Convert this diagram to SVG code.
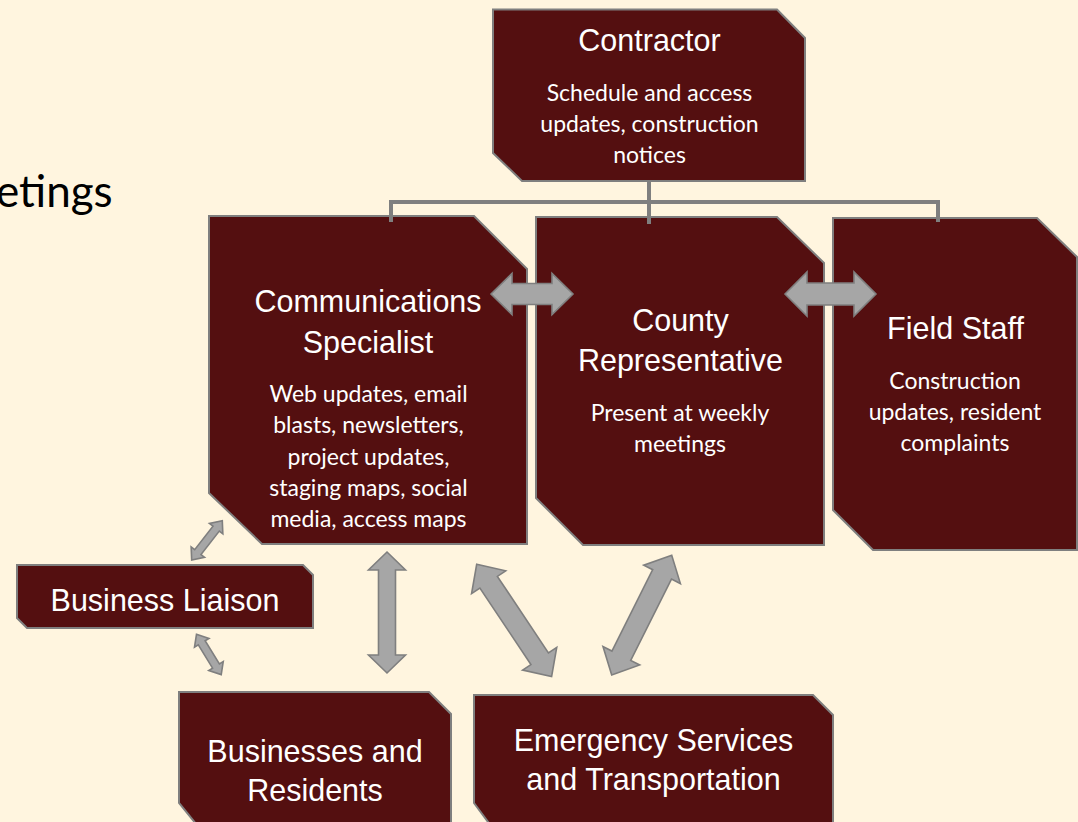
<svg xmlns="http://www.w3.org/2000/svg" width="1078" height="822" viewBox="0 0 1078 822">
<style>
.box{fill:#540f10;stroke:#7f7f7f;stroke-width:2}
.t{font-family:"Liberation Sans",Arial,sans-serif;font-size:30.5px;fill:#ffffff;text-anchor:middle}
.b{font-family:Lato,"Noto Sans",sans-serif;font-size:23px;fill:#ffffff;text-anchor:middle}
.ln{fill:none;stroke:#7f7f7f;stroke-width:4}
.ar{fill:#a6a6a6;stroke:#7f7f7f;stroke-width:1.6;stroke-linejoin:miter}
</style>
<rect width="1078" height="822" fill="#fff5df"/>
<text x="-4" y="207" font-family="Lato,'Noto Sans',sans-serif" font-size="44" fill="#000000">etings</text>

<g id="contractor">
<polygon class="box" points="493,9.5 777,9.5 805,38 805,181 522,181 493,153"/>
<text class="t" x="649.5" y="51">Contractor</text>
<text class="b" x="649.5" y="101">Schedule and access</text>
<text class="b" x="649.5" y="132">updates, construction</text>
<text class="b" x="649.5" y="163">notices</text>
</g>

<g id="communications-specialist">
<polygon class="box" points="209,216 474,216 527,269 527,544 262,544 209,493"/>
<text class="t" x="368" y="312">Communications</text>
<text class="t" x="368" y="353">Specialist</text>
<text class="b" x="368.5" y="402">Web updates, email</text>
<text class="b" x="368.5" y="433">blasts, newsletters,</text>
<text class="b" x="368.5" y="465">project updates,</text>
<text class="b" x="368.5" y="496">staging maps, social</text>
<text class="b" x="368.5" y="527">media, access maps</text>
</g>

<g id="county-representative">
<polygon class="box" points="536,217 777,217 824,263 824,545 583,545 536,498"/>
<text class="t" x="680.5" y="331">County</text>
<text class="t" x="680.5" y="371">Representative</text>
<text class="b" x="680" y="421">Present at weekly</text>
<text class="b" x="680" y="452">meetings</text>
</g>

<g id="field-staff">
<polygon class="box" points="833,218 1037,218 1077,257 1077,550 873,550 833,510"/>
<text class="t" x="955.5" y="339">Field Staff</text>
<text class="b" x="955" y="389">Construction</text>
<text class="b" x="955" y="420">updates, resident</text>
<text class="b" x="955" y="451">complaints</text>
</g>

<g id="business-liaison">
<polygon class="box" points="17,565 303,565 313,575 313,628 27,628 17,618"/>
<text class="t" x="165" y="611">Business Liaison</text>
</g>

<g id="businesses-residents">
<polygon class="box" points="179,692 429,692 451,714 451,830 201,830 179,803"/>
<text class="t" x="315" y="762">Businesses and</text>
<text class="t" x="315" y="801">Residents</text>
</g>

<g id="emergency-services">
<polygon class="box" points="474,695 813,695 833,715 833,830 494,830 474,803"/>
<text class="t" x="653.5" y="751">Emergency Services</text>
<text class="t" x="653.5" y="790">and Transportation</text>
</g>

<g id="connectors">
<path class="ln" d="M649,181 V224 M391,222 V202 H938 V222"/>
<polygon class="ar" transform="translate(491,294)" points="0,0 21,-20.5 21,-10.5 61,-10.5 61,-20.5 82,0 61,20.5 61,10.5 21,10.5 21,20.5"/>
<polygon class="ar" transform="translate(785,294)" points="0,0 22,-22 22,-11 69,-11 69,-22 91,0 69,22 69,11 22,11 22,22"/>
<polygon class="ar" transform="translate(387,552) rotate(90)" points="0,0 18,-18.5 18,-8.5 103,-8.5 103,-18.5 121,0 103,18.5 103,8.5 18,8.5 18,18.5"/>
<polygon class="ar" transform="translate(476.7,564.3) rotate(56.3)" points="0,0 21.5,-20.5 21.5,-10.5 113.5,-10.5 113.5,-20.5 135,0 113.5,20.5 113.5,10.5 21.5,10.5 21.5,20.5"/>
<polygon class="ar" transform="translate(611.7,675) rotate(-63.4)" points="0,0 21.5,-20.5 21.5,-10.5 112.5,-10.5 112.5,-20.5 134,0 112.5,20.5 112.5,10.5 21.5,10.5 21.5,20.5"/>
<polygon class="ar" transform="translate(191.7,560) rotate(-52.1)" points="0,0 10,-8.5 10,-4 39.8,-4 39.8,-8.5 49.8,0 39.8,8.5 39.8,4 10,4 10,8.5"/>
<polygon class="ar" transform="translate(196.5,634.3) rotate(58.5)" points="0,0 10,-8.5 10,-4 37.3,-4 37.3,-8.5 47.3,0 37.3,8.5 37.3,4 10,4 10,8.5"/>
</g>
</svg>
